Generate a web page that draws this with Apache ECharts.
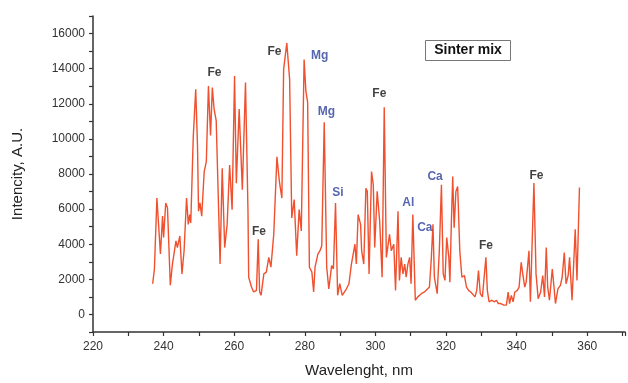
<!DOCTYPE html>
<html>
<head>
<meta charset="utf-8">
<script src="https://cdn.jsdelivr.net/npm/echarts@6/dist/echarts.min.js"></script>
<style>html,body{margin:0;padding:0;background:#fff}#c{width:628px;height:383px}</style>
</head>
<body>
<div id="c"></div>
<script>
// Wavelength (nm) and intensity (A.U.)
const wavelength = [
236.9,237.4,238.1,239.1,239.7,240.0,240.6,241.1,241.9,242.5,243.5,243.9,244.6,245.2,245.8,246.5,247.0,247.4,247.7,248.4,
248.8,249.1,249.6,249.9,250.3,250.8,251.5,252.1,252.7,253.3,253.8,254.3,254.9,256.0,256.6,257.3,258.0,258.7,259.4,260.1,
260.6,261.4,262.3,263.2,263.9,264.1,264.9,265.5,266.3,266.8,267.2,267.6,268.4,269.1,269.8,270.4,271.2,272.1,272.8,273.5,
274.0,274.9,275.7,276.3,277.0,277.7,278.4,279.0,279.8,280.3,280.8,281.3,282.0,282.5,282.9,283.7,284.3,284.8,285.5,286.2,
286.8,287.6,288.1,288.7,289.3,289.9,290.6,291.1,291.8,292.5,293.2,293.7,294.2,294.6,295.1,295.8,296.1,296.7,297.3,297.7,
298.2,298.9,299.4,299.8,300.5,301.2,301.9,302.5,303.1,303.6,304.0,304.5,305.2,305.7,306.4,306.8,307.3,307.8,308.3,308.7,
309.2,309.7,310.1,310.6,311.3,312.0,313.0,313.9,315.3,315.8,316.3,316.7,317.5,318.1,318.7,319.2,319.7,320.2,320.8,321.1,
321.5,321.9,322.3,322.8,323.3,323.9,324.5,325.2,325.8,326.4,327.0,327.5,328.2,328.7,329.2,329.7,330.3,330.8,331.3,331.7,
332.2,333.0,333.6,334.3,334.8,335.5,336.4,337.1,337.6,338.0,338.5,339.0,339.5,340.2,340.7,341.3,341.8,342.3,342.7,343.5,
343.9,344.9,345.5,346.1,346.8,347.4,347.9,348.4,348.8,349.3,350.1,350.5,351.0,351.7,352.4,352.9,353.5,354.0,354.6,355.0,
355.7,356.6,357.1,357.8
];
const intensity = [
1750,2590,6630,3440,5600,4380,6350,6070,1660,2870,4190,3810,4470,2310,3630,6630,5130,5690,5220,10110,
10200,12830,9630,5880,6350,5600,8140,8700,13010,10200,12920,11700,11040,2870,8320,3810,5130,8510,5970,13580,
7480,11700,7100,13210,5880,2120,1560,1280,1370,4280,1280,1090,2310,2410,3250,2690,4560,8980,7570,6630,
13960,15460,13390,5500,6540,3350,5970,4760,14520,12730,12080,2690,2410,1280,2690,3440,3630,3910,10950,2690,
1460,2780,2590,6350,1090,1750,1090,1000,1460,1750,2870,2780,4000,2870,5690,5130,3630,2870,7190,7010,
2310,8140,7380,3810,7010,5320,2120,11800,3250,3250,4560,3630,4000,1370,5880,1940,3250,2310,2870,2120,
2870,3250,1750,5690,810,1000,1180,1280,1560,3070,5130,2120,1180,3630,7380,2310,1940,4380,3250,1840,
5130,7850,4940,7010,7290,3630,2120,2220,1560,1370,1280,1370,1000,1370,2500,1180,1000,2120,3250,1370,
720,810,720,810,620,620,530,530,1280,620,1090,720,1280,1370,1560,2970,2220,1560,1840,3630,
720,7480,2310,900,1280,2220,1000,3810,1560,810,2590,1750,620,1460,1660,2120,3530,1750,2220,3250,
810,4850,1940,7230
];
// Element annotations (label, wavelength, intensity position)
const annText = ['Fe','Fe','Mg','Mg','Si','Fe','Al','Ca','Ca','Fe','Fe','Fe'];
const annX = [254.4,271.4,284.2,286.1,289.4,301.1,309.3,314.0,316.9,267.0,331.3,345.6];
const annY = [13790,14970,14740,11530,6910,12550,6350,4940,7870,4720,3930,7930];
const annBlue = [false,false,true,true,true,false,true,true,true,false,false,false];
const yTicks = [0,2000,4000,6000,8000,10000,12000,14000,16000];
const xTicks = [220,240,260,280,300,320,340,360];

const chart = echarts.init(document.getElementById('c'));
const lineData = wavelength.map((w,i)=>[w,intensity[i]]);
const annData = annText.map((t,i)=>({
  name:t, value:[annX[i],annY[i]],
  label:{color: annBlue[i] ? '#2b3f9c' : '#111'}
}));
const axisCol = '#333';
chart.setOption({
  animation:false,
  backgroundColor:'#fff',
  grid:{left:93, right:0, top:16, bottom:48},
  xAxis:{
    type:'value', min:220, max:370.7, interval:10,
    name:'Wavelenght, nm', nameLocation:'middle', nameGap:31,
    nameTextStyle:{fontFamily:'Liberation Sans, Arial', fontSize:15, color:'#222'},
    axisLine:{show:true, onZero:false, lineStyle:{color:axisCol, width:1.5}},
    axisTick:{show:true, length:4, lineStyle:{color:axisCol, width:1.2}},
    axisLabel:{margin:9, fontFamily:'Liberation Sans, Arial', fontSize:12, color:'#333',
      formatter:v=> xTicks.includes(Math.round(v)) ? String(Math.round(v)) : ''},
    splitLine:{show:false}
  },
  yAxis:{
    type:'value', min:-1000, max:17000, interval:1000,
    name:'Intencity, A.U.', nameLocation:'middle', nameGap:68,
    nameTextStyle:{fontFamily:'Liberation Sans, Arial', fontSize:15, color:'#222'},
    axisLine:{show:true, onZero:false, lineStyle:{color:axisCol, width:1.5}},
    axisTick:{show:true, length:4, lineStyle:{color:axisCol, width:1.2}},
    axisLabel:{margin:8, fontFamily:'Liberation Sans, Arial', fontSize:12, color:'#333',
      formatter:v=> yTicks.includes(Math.round(v)) ? String(Math.round(v)) : ''},
    splitLine:{show:false}
  },
  series:[
    {type:'line', data:lineData, showSymbol:false, symbol:'none',
     lineStyle:{color:'#f0502e', width:1.4}, z:2},
    {type:'scatter', data:annData, symbolSize:0, z:5,
     label:{show:true, position:'inside', formatter:'{b}',
       fontFamily:'Liberation Sans, Arial', fontWeight:'bold', fontSize:12}}
  ],
  graphic:[
    {type:'group', left:425, top:40, children:[
      {type:'rect', shape:{x:0,y:0,width:85,height:20}, style:{fill:'#fff', stroke:'#777', lineWidth:1}},
      {type:'text', x:42.5, y:10, style:{text:'Sinter mix', align:'center', verticalAlign:'middle',
        font:'bold 14px "Liberation Sans", Arial', fill:'#111'}}
    ]}
  ]
});
</script>
</body>
</html>
